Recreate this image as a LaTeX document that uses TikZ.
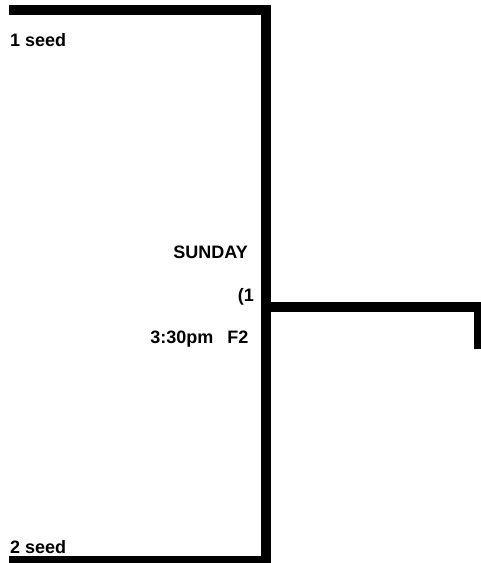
\documentclass[tikz,border=0pt]{standalone}
\usepackage{fontspec}
\setmainfont{Liberation Sans}
\begin{document}
\begin{tikzpicture}[x=1pt,y=-1pt,
  bar/.style={line width=10pt,line join=miter,line cap=butt,black},
  lbl/.style={inner sep=0pt,font=\fontsize{18}{21}\selectfont\bfseries}]
\useasboundingbox (0,0) rectangle (481,563);
\clip (0,0) rectangle (481,563);
\coordinate (tl) at (9,10);
\coordinate (tr) at (266,10);
\coordinate (br) at (266,561);
\coordinate (bl) at (9,561);
\coordinate (mj) at (266,306.7);
\coordinate (mr) at (479,306.7);
\coordinate (me) at (479,349);
\draw[bar] (tl) -- (tr) -- (br) -- (bl);
\draw[bar] (mj) -- (mr) -- (me);
\node[lbl,anchor=base west] (s1) at (10,46) {1 seed};
\node[lbl,anchor=base west] (s2) at (10,553) {2 seed};
\node[lbl,anchor=base east] (day) at (248,258) {SUNDAY};
\node[lbl,anchor=base east] (gm) at (254,301) {(1};
\node[lbl,anchor=base east] (tm) at (248.5,343) {3:30pm\hspace{14pt}F2};
\end{tikzpicture}
\end{document}
